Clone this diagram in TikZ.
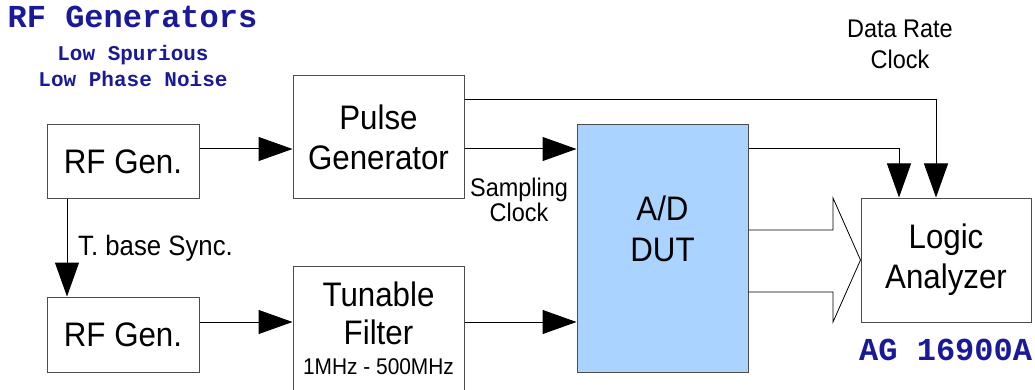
\documentclass[tikz,border=0pt]{standalone}
\usepackage{fontspec}
\setmainfont{Liberation Sans}[FakeStretch=0.92]
\setmonofont{Liberation Mono}
\usetikzlibrary{positioning}
\usetikzlibrary{calc}
\usetikzlibrary{arrows.meta}

\definecolor{labelblue}{RGB}{26,26,153}
\definecolor{dutblue}{RGB}{170,212,255}

\tikzset{
  block/.style={draw=black!70, line width=1pt, fill=white, align=center, inner sep=0pt, font=\fontsize{34}{40}\selectfont},
  sig/.style={line width=1pt, -{Triangle[length=34pt, width=24pt]}},
  note/.style={inner sep=0pt, align=center, font=\fontsize{25.5}{25}\selectfont},
  mono/.style={inner sep=0pt, text=labelblue, font=\ttfamily\bfseries\fontsize{32}{36}\selectfont},
}

\begin{document}
\begin{tikzpicture}[x=1pt, y=-1pt]

        \useasboundingbox (0,0) rectangle (1035,390);

        % the blocks
        \node[block, minimum width=152, minimum height=73] (rfa) at (123,161.5) {RF Gen.};
        \node[block, minimum width=152, minimum height=75] (rfb) at (123,334.5) {RF Gen.};
        \node[block, minimum width=171, minimum height=122] (pulse) at (378.5,137) {Pulse\\Generator};
        \node[block, minimum width=171, minimum height=124, font=\fontsize{34}{38}\selectfont] (filter) at (378.5,328) {Tunable\\Filter\\[-8pt]{\fontsize{22.7}{30}\selectfont 1MHz - 500MHz}};
        \node[block, fill=dutblue, minimum width=171, minimum height=247] (dut) at (662.5,248.5) {};
        \node[block, minimum width=170, minimum height=124] (logic) at (946,260) {Logic\\Analyzer};

        \node[inner sep=0pt, align=center, font=\fontsize{34}{41}\selectfont] (dutname) at (662.5,228.5) {A/D\\DUT};

        % rows and columns of the wires
        \coordinate (row1) at (0,149);
        \coordinate (row2) at (0,322);
        \coordinate (sync) at (67,0);
        \coordinate (clk) at (936,100);
        \coordinate (dout) at (899,149);
        \coordinate (bus1) at (0,230);
        \coordinate (bus2) at (0,292);

        \draw[sig] (rfa.east |- row1) -- (pulse.west |- row1);
        \draw[sig] (pulse.east |- row1) -- (dut.west |- row1);
        \draw[sig] (rfb.east |- row2) -- (filter.west |- row2);
        \draw[sig] (filter.east |- row2) -- (dut.west |- row2);
        \draw[sig] (rfa.south -| sync) -- (rfb.north -| sync);
        \draw[sig] (pulse.east |- clk) -| (logic.north -| clk);
        \draw[sig] (dut.east |- dout) -| (logic.north -| dout);

        % wide bus arrow
        \draw[line width=0.8pt] (dut.east |- bus1) -- (833,230) -- (833,198) -- (logic.west) -- (833,322) -- (833,292) -- (dut.east |- bus2);

        % texts
        \node[note] (sampling) at (519,199.5) {Sampling\\Clock};
        \node[note, font=\fontsize{25.5}{31}\selectfont] (datarate) at (900,44.5) {Data Rate\\Clock};
        \node[note, anchor=base west, font=\fontsize{28}{30}\selectfont] (tbase) at (78,255) {T. base Sync.};

        \node[mono, anchor=base] (title) at (132.5,28) {RF Generators};
        \node[mono, anchor=base, font=\ttfamily\bfseries\fontsize{21}{24}\selectfont] (spur) at (133,61) {Low Spurious};
        \node[mono, anchor=base, font=\ttfamily\bfseries\fontsize{21}{24}\selectfont] (phase) at (133,87) {Low Phase Noise};
        \node[mono, anchor=base west] (model) at (859,360) {AG 16900A};

\end{tikzpicture}
\end{document}
